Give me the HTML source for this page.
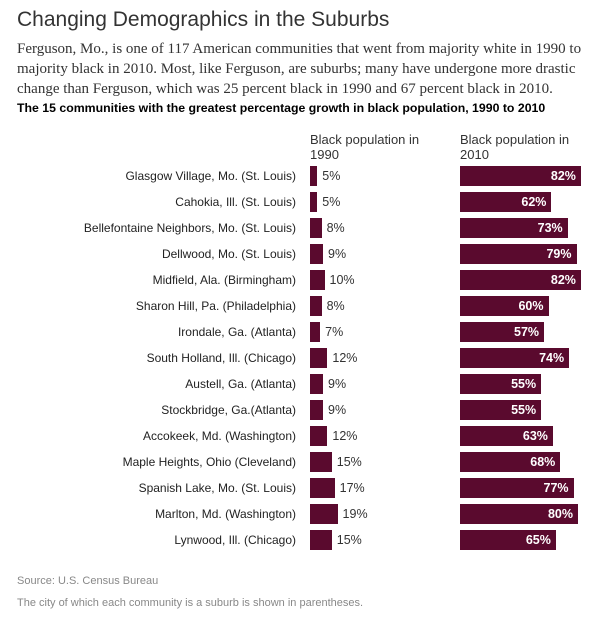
<!DOCTYPE html>
<html><head><meta charset="utf-8"><style>
body{margin:0;background:#fff;font-family:"Liberation Sans",sans-serif;}
#c{position:relative;width:600px;height:620px;overflow:hidden;}
.t{position:absolute;white-space:nowrap;}
</style></head><body>
<div id="c">
<div class="t" style="left:17px;top:8px;font-size:21px;color:#333;font-weight:normal">Changing Demographics in the Suburbs</div>
<div class="t" style="left:17px;top:39px;font-family:'Liberation Serif',serif;font-size:15px;line-height:20px;color:#333">Ferguson, Mo., is one of 117 American communities that went from majority white in 1990 to<br>majority black in 2010. Most, like Ferguson, are suburbs; many have undergone more drastic<br>change than Ferguson, which was 25 percent black in 1990 and 67 percent black in 2010.</div>
<div class="t" style="left:17px;top:101px;font-size:12.3px;font-weight:bold;color:#000">The 15 communities with the greatest percentage growth in black population, 1990 to 2010</div>
<div class="t" style="left:310px;top:132px;font-size:13px;line-height:15px;color:#333">Black population in<br>1990</div>
<div class="t" style="left:460px;top:132px;font-size:13px;line-height:15px;color:#333">Black population in<br>2010</div>
<div id="rows"></div>
<div class="t" style="left:17px;top:575px;font-size:11px;color:#888">Source: U.S. Census Bureau</div>
<div class="t" style="left:17px;top:597px;font-size:11px;color:#888">The city of which each community is a suburb is shown in parentheses.</div>
</div>
<script>
const communities=["Glasgow Village, Mo. (St. Louis)","Cahokia, Ill. (St. Louis)","Bellefontaine Neighbors, Mo. (St. Louis)","Dellwood, Mo. (St. Louis)","Midfield, Ala. (Birmingham)","Sharon Hill, Pa. (Philadelphia)","Irondale, Ga. (Atlanta)","South Holland, Ill. (Chicago)","Austell, Ga. (Atlanta)","Stockbridge, Ga.(Atlanta)","Accokeek, Md. (Washington)","Maple Heights, Ohio (Cleveland)","Spanish Lake, Mo. (St. Louis)","Marlton, Md. (Washington)","Lynwood, Ill. (Chicago)"];
const pct1990=[5,5,8,9,10,8,7,12,9,9,12,15,17,19,15];
const pct2010=[82,62,73,79,82,60,57,74,55,55,63,68,77,80,65];
const color="#5a0a2e";
const c=document.getElementById('rows');
const rowY=i=>166+i*26;
const x1990=v=>v*1.45;
const x2010=v=>v*1.475;
communities.forEach((n,i)=>{
  const y=rowY(i);
  const l=document.createElement('div');
  l.className='t';
  
  
  l.style.cssText=`right:304px;top:${y+3}px;font-size:12px;color:#222`;
  l.textContent=n;c.appendChild(l);
  const b=document.createElement('div');
  b.className='t';
  
  
  const w1=x1990(pct1990[i]);
  b.style.cssText=`left:310px;top:${y}px;width:${w1}px;height:20px;background:${color}`;
  c.appendChild(b);
  const v=document.createElement('div');
  v.className='t';
  
  
  v.style.cssText=`left:${310+w1+5}px;top:${y+3}px;font-size:12.5px;color:#333`;
  v.textContent=pct1990[i]+'%';c.appendChild(v);
  const b2=document.createElement('div');
  b2.className='t';
  
  
  const w2=x2010(pct2010[i]);
  b2.style.cssText=`left:460px;top:${y}px;width:${w2}px;height:20px;background:${color};color:#fff;font-size:12.5px;font-weight:bold;text-align:right;box-sizing:border-box;padding-right:5px;line-height:20px`;
  b2.textContent=pct2010[i]+'%';
  c.appendChild(b2);
});
</script>
</body></html>
